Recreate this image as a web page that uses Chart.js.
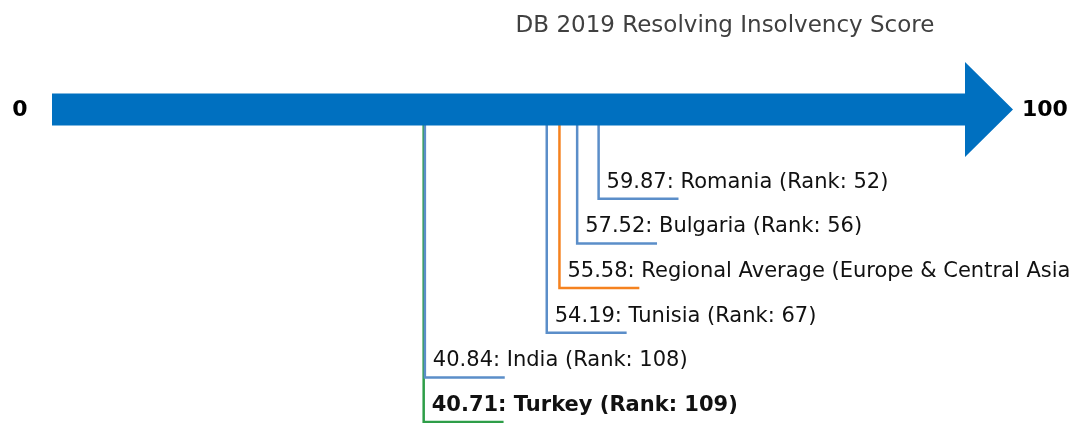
<!DOCTYPE html>
<html>
<head>
<meta charset="utf-8">
<script src="https://cdn.jsdelivr.net/npm/chart.js@4.4.0/dist/chart.umd.min.js"></script>
<style>
  html, body { margin: 0; padding: 0; background: #fff; }
  canvas { display: block; }
</style>
</head>
<body>
<canvas id="scoreChart" width="1071" height="423"></canvas>
<script>
// DB 2019 Resolving Insolvency scores
const chartTitle = "DB 2019 Resolving Insolvency Score";
const scaleMin = 0;
const scaleMax = 100;
const economies = ["Romania", "Bulgaria", "Regional Average (Europe & Central Asia)", "Tunisia", "India", "Turkey"];
const scores = [59.87, 57.52, 55.58, 54.19, 40.84, 40.71];
const ranks = [52, 56, null, 67, 108, 109];
const levels = [2, 3, 4, 5, 6, 7];       // how far below the arrow each label sits
const colors = ["#5b8ec9", "#5b8ec9", "#f5821f", "#5b8ec9", "#5b8ec9", "#2e9e48"];
const bold = [false, false, false, false, false, true];
const arrowLevel = 0;
const tickLen = 8.75;                      // length of the horizontal leader, in score units

function labelText(i) {
  let t = scores[i].toFixed(2) + ": " + economies[i];
  if (ranks[i] !== null) t += " (Rank: " + ranks[i] + ")";
  return t;
}

// one leader line per economy: down from the arrow, then to the right
const datasets = scores.map(function (s, i) {
  return {
    label: economies[i],
    data: [
      { x: s, y: arrowLevel },
      { x: s, y: levels[i] },
      { x: s + tickLen, y: levels[i] },
    ],
    showLine: true,
    borderColor: colors[i],
    borderWidth: 2.5,
    pointRadius: 0,
    tension: 0,
    clip: false,
  };
});

// big arrow from 0 to 100, drawn over the top ends of the leaders
const arrowPlugin = {
  id: "arrow",
  afterDatasetsDraw(chart) {
    const ctx = chart.ctx;
    const x = chart.scales.x;
    const y = chart.scales.y;
    const x0 = x.getPixelForValue(scaleMin);
    const x1 = x.getPixelForValue(scaleMax);
    const yc = y.getPixelForValue(arrowLevel);
    const half = 16, headHalf = 47.5, headLen = 48;
    ctx.save();
    ctx.fillStyle = "#0070c0";
    ctx.beginPath();
    ctx.moveTo(x0, yc - half);
    ctx.lineTo(x1, yc - half);
    ctx.lineTo(x1, yc - headHalf);
    ctx.lineTo(x1 + headLen, yc);
    ctx.lineTo(x1, yc + headHalf);
    ctx.lineTo(x1, yc + half);
    ctx.lineTo(x0, yc + half);
    ctx.closePath();
    ctx.fill();

    // end labels
    ctx.fillStyle = "#000";
    ctx.font = "bold 22px 'DejaVu Sans'";
    ctx.textBaseline = "middle";
    ctx.textAlign = "center";
    ctx.fillText(String(scaleMin), 20, yc + 1);
    ctx.textAlign = "left";
    ctx.fillText(String(scaleMax), x1 + headLen + 9, yc + 1);

    // title
    ctx.fillStyle = "#404040";
    ctx.font = "23px 'DejaVu Sans'";
    ctx.textAlign = "center";
    ctx.textBaseline = "alphabetic";
    ctx.fillText(chartTitle, 725, 32);
    ctx.restore();
  },
};

// text above each leader
const labelPlugin = {
  id: "leaderLabels",
  afterDatasetsDraw(chart) {
    const ctx = chart.ctx;
    ctx.save();
    ctx.fillStyle = "#111";
    ctx.textAlign = "left";
    ctx.textBaseline = "alphabetic";
    scores.forEach(function (s, i) {
      const px = chart.scales.x.getPixelForValue(s);
      const py = chart.scales.y.getPixelForValue(levels[i]);
      ctx.font = (bold[i] ? "bold " : "") + "21px 'DejaVu Sans'";
      ctx.fillText(labelText(i), px + 8, py - 11);
    });
    ctx.restore();
  },
};

new Chart(document.getElementById("scoreChart"), {
  type: "scatter",
  data: { datasets: datasets },
  options: {
    responsive: false,
    animation: false,
    layout: { padding: { left: 52, right: 106, top: 0, bottom: 0 } },
    plugins: {
      legend: { display: false },
      tooltip: { enabled: false },
    },
    scales: {
      x: { type: "linear", min: scaleMin, max: scaleMax, display: false },
      y: { type: "linear", min: -2.45, max: 7.02, reverse: true, display: false },
    },
  },
  plugins: [arrowPlugin, labelPlugin],
});
</script>
</body>
</html>
